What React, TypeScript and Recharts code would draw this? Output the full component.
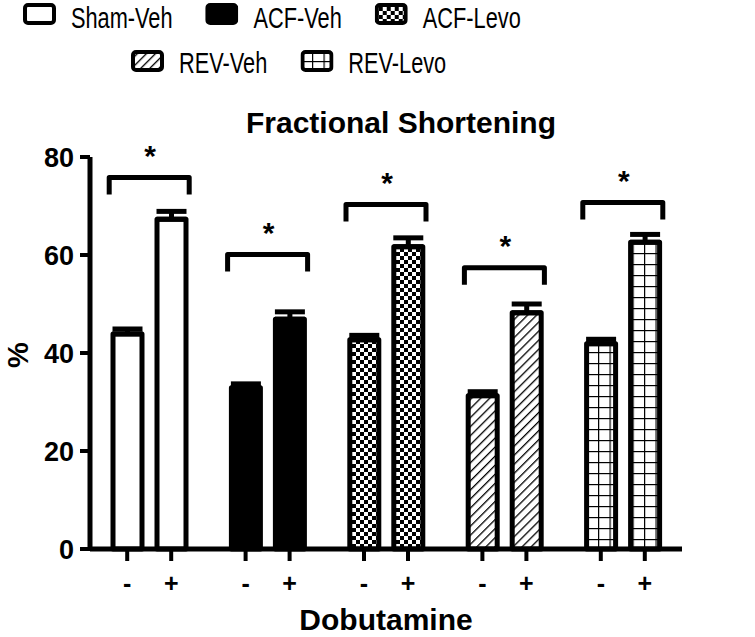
import {
  ComposedChart,
  Bar,
  Cell,
  ErrorBar,
  Scatter,
  XAxis,
  YAxis,
  Legend,
} from 'recharts';

const groups = ['Sham-Veh', 'ACF-Veh', 'ACF-Levo', 'REV-Veh', 'REV-Levo'];
const doseLabels = ['-', '+'];
// mean FS (%) without / with dobutamine
const fsMinus = [43.9, 32.9, 42.7, 31.3, 41.9];
const fsPlus = [67.3, 46.9, 61.7, 48.2, 62.6];
const semMinus = [1.0, 0.8, 0.9, 0.8, 0.9];
const semPlus = [1.6, 1.5, 1.8, 1.8, 1.6];
// height of the significance bracket over each pair
const bracketAt = [75.8, 60.1, 70.3, 57.4, 70.7];
const yTicks = [0, 20, 40, 60, 80];
const legendRows = [groups.slice(0, 3), groups.slice(3)];

const fills: Record<string, string> = {
  'Sham-Veh': '#ffffff',
  'ACF-Veh': '#000000',
  'ACF-Levo': 'url(#pat-check)',
  'REV-Veh': 'url(#pat-diag)',
  'REV-Levo': 'url(#pat-grid)',
};

const data = groups.map((g, i) => ({
  group: g,
  minus: fsMinus[i],
  plus: fsPlus[i],
  errMinus: [0, semMinus[i]],
  errPlus: [0, semPlus[i]],
  bracket: bracketAt[i],
}));

const FONT = '"Liberation Sans", Arial, Helvetica, sans-serif';
const BAR_SIZE = 29;
const BAR_GAP = 15;
const HALF_STEP = (BAR_SIZE + BAR_GAP) / 2;
// no narrow face installed, so the legend rows are squeezed instead
const SQUEEZE = 0.75;

const Patterns = () => (
  <defs>
    <pattern id="pat-check" width={8} height={8} patternUnits="userSpaceOnUse">
      <rect width={8} height={8} fill="#fff" />
      <rect x={0} y={0} width={4} height={4} fill="#000" />
      <rect x={4} y={4} width={4} height={4} fill="#000" />
    </pattern>
    <pattern id="pat-diag" width={6.4} height={6.4} patternUnits="userSpaceOnUse" patternTransform="rotate(45)">
      <rect width={6.4} height={6.4} fill="#fff" />
      <line x1={0} y1={0} x2={0} y2={6.4} stroke="#000" strokeWidth={2.6} />
    </pattern>
    <pattern id="pat-grid" width={11.5} height={11} patternUnits="userSpaceOnUse">
      <rect width={11.5} height={11} fill="#fff" />
      <line x1={0} y1={0} x2={11.5} y2={0} stroke="#000" strokeWidth={2.4} />
      <line x1={0} y1={0} x2={0} y2={11} stroke="#000" strokeWidth={2.4} />
    </pattern>
  </defs>
);

const DoseTick = ({ x, y }: { x?: number; y?: number }) => {
  if (x == null || y == null) return null;
  return (
    <g>
      {doseLabels.map((lbl, i) => {
        const tx = x + (i === 0 ? -HALF_STEP : HALF_STEP);
        return (
          <g key={lbl}>
            <line x1={tx} x2={tx} y1={y} y2={y + 12} stroke="#000" strokeWidth={4} />
            <text x={tx} y={y + 43} textAnchor="middle" fontFamily={FONT} fontWeight="bold" fontSize={25} fill="#000">
              {lbl}
            </text>
          </g>
        );
      })}
    </g>
  );
};

const Bracket = (props: { cx?: number; cy?: number }) => {
  const { cx, cy } = props;
  if (cx == null || cy == null) return null;
  const hw = 40;
  return (
    <g>
      <path
        d={`M${cx - hw},${cy + 17} L${cx - hw},${cy} L${cx + hw},${cy} L${cx + hw},${cy + 17}`}
        fill="none"
        stroke="#000"
        strokeWidth={5}
        strokeLinejoin="round"
      />
      <text x={cx + 1} y={cy - 12} textAnchor="middle" fontFamily={FONT} fontWeight="bold" fontSize={30} fill="#000">
        *
      </text>
    </g>
  );
};

const LegendBox = () => (
  <div style={{ fontFamily: FONT, fontSize: 29, color: '#000' }}>
    {legendRows.map((row, r) => (
      <div
        key={r}
        style={{
          display: 'flex',
          alignItems: 'flex-start',
          height: 34,
          marginTop: r === 0 ? 1 : 11,
          marginLeft: r === 0 ? 23 : 131,
          transform: `scaleX(${SQUEEZE})`,
          transformOrigin: '0 0',
        }}
      >
        {row.map((g) => (
          <div key={g} style={{ display: 'flex', alignItems: 'flex-start', marginRight: 33 / SQUEEZE }}>
            <svg
              width={33 / SQUEEZE}
              height={22}
              viewBox="0 0 33 22"
              preserveAspectRatio="none"
              style={{ display: 'block', marginTop: r === 0 ? 2 : 4 }}
            >
              <rect x={2} y={2} width={29} height={18} rx={3} fill={fills[g]} stroke="#000" strokeWidth={4} />
            </svg>
            <span style={{ marginLeft: 15 / SQUEEZE, lineHeight: '34px', whiteSpace: 'nowrap' }}>{g}</span>
          </div>
        ))}
      </div>
    ))}
  </div>
);

export default function App() {
  return (
    <div style={{ position: 'absolute', left: 0, top: 0, background: '#fff' }}>
      <ComposedChart
        width={755}
        height={637}
        data={data}
        margin={{ top: 157, right: 73, bottom: 48, left: 30 }}
        barSize={BAR_SIZE}
        barGap={BAR_GAP}
      >
        <Patterns />
        <XAxis
          dataKey="group"
          type="category"
          height={40}
          axisLine={{ stroke: '#000', strokeWidth: 5 }}
          tickLine={false}
          tickSize={0}
          tickMargin={0}
          tick={<DoseTick />}
          interval={0}
        />
        <YAxis
          type="number"
          domain={[0, 80]}
          ticks={yTicks}
          width={60}
          axisLine={{ stroke: '#000', strokeWidth: 5 }}
          tickLine={{ stroke: '#000', strokeWidth: 4 }}
          tickSize={10}
          tickMargin={6}
          tick={{ fill: '#000', fontSize: 27, fontWeight: 'bold', fontFamily: FONT }}
        />
        <Legend
          layout="horizontal"
          verticalAlign="middle"
          align="center"
          content={<LegendBox />}
          wrapperStyle={{ top: 0, left: 0, width: 755 }}
        />
        <Bar dataKey="minus" stroke="#000" strokeWidth={5} strokeLinejoin="round" isAnimationActive={false} legendType="none">
          {data.map((d) => (
            <Cell key={d.group} fill={fills[d.group]} />
          ))}
          <ErrorBar dataKey="errMinus" direction="y" width={15} stroke="#000" strokeWidth={5} />
        </Bar>
        <Bar dataKey="plus" stroke="#000" strokeWidth={5} strokeLinejoin="round" isAnimationActive={false} legendType="none">
          {data.map((d) => (
            <Cell key={d.group} fill={fills[d.group]} />
          ))}
          <ErrorBar dataKey="errPlus" direction="y" width={15} stroke="#000" strokeWidth={5} />
        </Bar>
        <Scatter dataKey="bracket" shape={<Bracket />} isAnimationActive={false} legendType="none" />
        <text x={401} y={133} textAnchor="middle" fontFamily={FONT} fontWeight="bold" fontSize={30} fill="#000">
          Fractional Shortening
        </text>
        <text
          x={28}
          y={355}
          textAnchor="middle"
          transform="rotate(-90, 28, 355)"
          fontFamily={FONT}
          fontWeight="bold"
          fontSize={29}
          fill="#000"
        >
          %
        </text>
        <text x={386} y={630} textAnchor="middle" fontFamily={FONT} fontWeight="bold" fontSize={30} fill="#000">
          Dobutamine
        </text>
      </ComposedChart>
    </div>
  );
}
